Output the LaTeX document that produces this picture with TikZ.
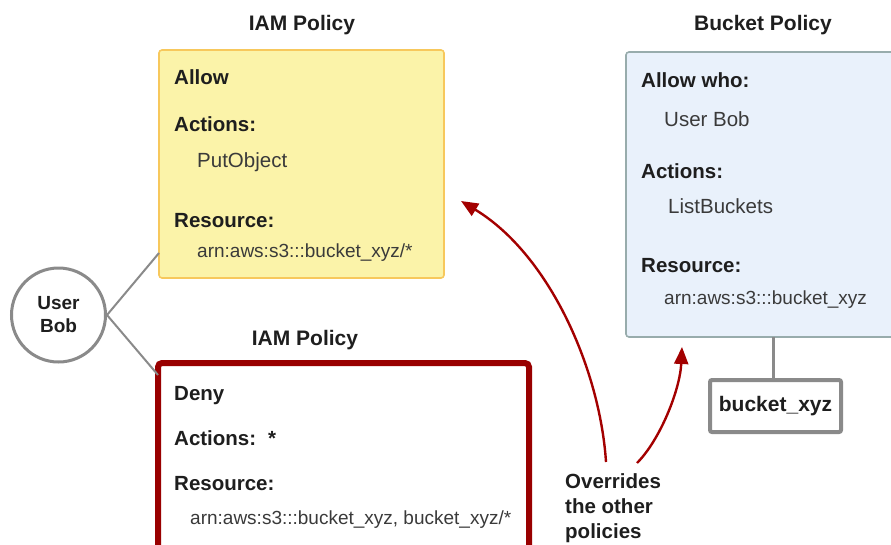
\documentclass[tikz,border=0pt]{standalone}
\usepackage{fontspec}
\setmainfont{Liberation Sans}
\usetikzlibrary{arrows.meta}

\definecolor{allowfill}{HTML}{FBF3A9}
\definecolor{allowedge}{HTML}{F7C85C}
\definecolor{denyred}{HTML}{990000}
\definecolor{bpfill}{HTML}{E9F1FB}
\definecolor{bpedge}{HTML}{98ACAC}
\definecolor{linkgray}{HTML}{8A8A8A}
\definecolor{ink}{HTML}{1E1E1E}
\definecolor{softink}{HTML}{3A3A3A}
\definecolor{arrowred}{HTML}{A30000}

\begin{document}
\begin{tikzpicture}[x=1pt,y=-1pt,
  policybox/.style={anchor=north west, inner sep=0pt, outer sep=0pt},
  head/.style={anchor=base west, inner sep=0pt, text=ink,
    font=\fontsize{20.5}{24}\selectfont\bfseries},
  item/.style={anchor=base west, inner sep=0pt, text=softink,
    font=\fontsize{20.5}{24}\selectfont},
  arnitem/.style={anchor=base west, inner sep=0pt, text=softink,
    font=\fontsize{19}{22}\selectfont},
  title/.style={anchor=base, inner sep=0pt, text=ink,
    font=\fontsize{21}{24}\selectfont\bfseries},
  link/.style={draw=linkgray, line width=2pt},
  override/.style={draw=arrowred, line width=2.4pt,
    -{Triangle[length=17pt,width=14pt]}}
]
\useasboundingbox (0,0) rectangle (891,544);
\clip (0,0) rectangle (891,544);

% ---- titles ----
\node[title] (t1) at (302,30) {IAM Policy};
\node[title] (t2) at (305,345) {IAM Policy};
\node[title] (t3) at (763,30) {Bucket Policy};

% ---- allow policy (yellow) ----
\node[policybox, draw=allowedge, fill=allowfill, line width=1.6pt,
  rounded corners=3pt, minimum width=285pt, minimum height=228pt]
  (allowbox) at (159,50) {};
\node[head] (a1) at (174,84) {Allow};
\node[head] (a2) at (174,131) {Actions:};
\node[item] (a3) at (197,167) {PutObject};
\node[head] (a4) at (174,227) {Resource:};
\node[arnitem] (a5) at (197,257) {arn:aws:s3:::bucket\_xyz/*};

% ---- deny policy (red) ----
\node[policybox, draw=denyred, fill=white, line width=6pt,
  rounded corners=4pt, minimum width=371pt, minimum height=220pt]
  (denybox) at (158,363) {};
\node[head] (d1) at (174,400) {Deny};
\node[head] (d2) at (174,445) {Actions:};
\node[head] (d2s) at (268,445) {*};
\node[head] (d3) at (174,490) {Resource:};
\node[arnitem] (d4) at (190,524) {arn:aws:s3:::bucket\_xyz, bucket\_xyz/*};

% ---- bucket policy (blue) ----
\node[policybox, draw=bpedge, fill=bpfill, line width=1.6pt,
  rounded corners=3pt, minimum width=290pt, minimum height=285pt]
  (bucketpol) at (626,52) {};
\node[head] (b1) at (641,87) {Allow who:};
\node[item] (b2) at (664,126) {User Bob};
\node[head] (b3) at (641,178) {Actions:};
\node[item] (b4) at (668,213) {ListBuckets};
\node[head] (b5) at (641,272) {Resource:};
\node[arnitem] (b6) at (664,304) {arn:aws:s3:::bucket\_xyz};

% ---- bucket ----
\node[draw=linkgray, line width=4pt, fill=white, rounded corners=2pt,
  minimum width=131pt, minimum height=52pt, inner sep=0pt, text=ink,
  font=\fontsize{21}{24}\selectfont\bfseries]
  (bucket) at (775.5,406) {bucket\_xyz};
\draw[link, line width=3pt] (bucket.north -| 773,0) -- (bucketpol.south -| 773,0);

% ---- user ----
\node[circle, draw=linkgray, line width=3pt, fill=white, minimum size=94pt,
  inner sep=0pt, align=center, text=ink,
  font=\fontsize{19}{23}\selectfont\bfseries]
  (user) at (58.5,315) {User\\Bob};
\draw[link] (user.east) -- ([yshift=25pt]allowbox.south west);
\draw[link] (user.east) -- ([yshift=-12pt]denybox.north west);

% ---- override note and arrows ----
\node[anchor=north west, inner sep=0pt, align=left, text=ink,
  font=\fontsize{20.5}{25}\selectfont\bfseries]
  (note) at (565,473) {Overrides\\the other\\policies};
\coordinate (n1) at (606,462);
\coordinate (n2) at (637,463);
\coordinate (tipA) at (461,201);
\coordinate (tipB) at (682,347);
\draw[override] (n1) .. controls (600,370) and (550,255) .. (tipA);
\draw[override] (n2) .. controls (660,440) and (680,390) .. (tipB);
\end{tikzpicture}
\end{document}
